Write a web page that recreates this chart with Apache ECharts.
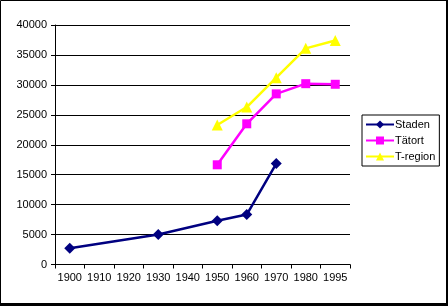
<!DOCTYPE html>
<html>
<head>
<meta charset="utf-8">
<script src="https://cdn.jsdelivr.net/npm/echarts@6/dist/echarts.min.js"></script>
<style>
html,body{margin:0;padding:0;background:#fff;}
#c{width:448px;height:306px;}
</style>
</head>
<body>
<div id="c"></div>
<script>
var categories = ['1900','1910','1920','1930','1940','1950','1960','1970','1980','1995'];
var staden  = [2700, null, null, 5000, null, 7300, 8350, 16850, null, null];
var tatort  = [null, null, null, null, null, 16650, 23500, 28500, 30200, 30100];
var tregion = [null, null, null, null, null, 23300, 26300, 31200, 36100, 37400];
var yTicks = [0, 5000, 10000, 15000, 20000, 25000, 30000, 35000, 40000];

var chart = echarts.init(document.getElementById('c'), null, {renderer:'canvas'});
var font = 'Liberation Sans, Arial, sans-serif';
function ser(name, data, color, symbol, size) {
  return {
    name: name, type: 'line', data: data, connectNulls: true,
    symbol: symbol, symbolSize: size,
    lineStyle: {color: color, width: 2.5},
    itemStyle: {color: color},
    emphasis: {disabled: true},
    animation: false
  };
}
chart.setOption({
  animation: false,
  textStyle: {fontFamily: font},
  grid: {left: 55, right: 98, top: 25, bottom: 41.5, containLabel: false},
  xAxis: {
    type: 'category', data: categories, boundaryGap: true,
    axisLine: {lineStyle: {color: '#000', width: 1}},
    axisTick: {show: true, alignWithLabel: false, length: 4, lineStyle: {color: '#000'}},
    axisLabel: {color: '#000', fontSize: 11, fontFamily: font, margin: 8, interval: 0},
    splitLine: {show: false}
  },
  yAxis: {
    type: 'value', min: yTicks[0], max: yTicks[yTicks.length-1], interval: 5000,
    axisLine: {show: true, lineStyle: {color: '#000', width: 1}},
    axisTick: {show: true, length: 4, lineStyle: {color: '#000'}},
    axisLabel: {color: '#000', fontSize: 11, fontFamily: font, margin: 8, formatter: function(v){ return String(v); }},
    splitLine: {show: true, lineStyle: {color: '#000', width: 1}}
  },
  legend: {
    orient: 'vertical', left: 362, top: 115, width: 74,
    borderColor: '#000', borderWidth: 1, padding: [4, 4, 4, 3],
    itemGap: 5, itemWidth: 28, itemHeight: 10,
    textStyle: {color: '#000', fontSize: 11, fontFamily: font, padding: [0,0,0,-4]},
    data: ['Staden', 'Tätort', 'T-region']
  },
  graphic: [
    {type: 'rect', shape: {x: 0.5, y: 0.5, width: 446, height: 303}, style: {fill: 'none', stroke: '#000', lineWidth: 1}, silent: true},
    {type: 'rect', shape: {x: 446, y: 0, width: 2, height: 306}, style: {fill: '#000'}, silent: true},
    {type: 'rect', shape: {x: 0, y: 303, width: 448, height: 3}, style: {fill: '#000'}, silent: true}
  ],
  series: [
    ser('Staden', staden, '#000080', 'diamond', 11),
    ser('Tätort', tatort, '#FF00FF', 'rect', 9),
    ser('T-region', tregion, '#FFFF00', 'triangle', 11)
  ]
});
</script>
</body>
</html>
